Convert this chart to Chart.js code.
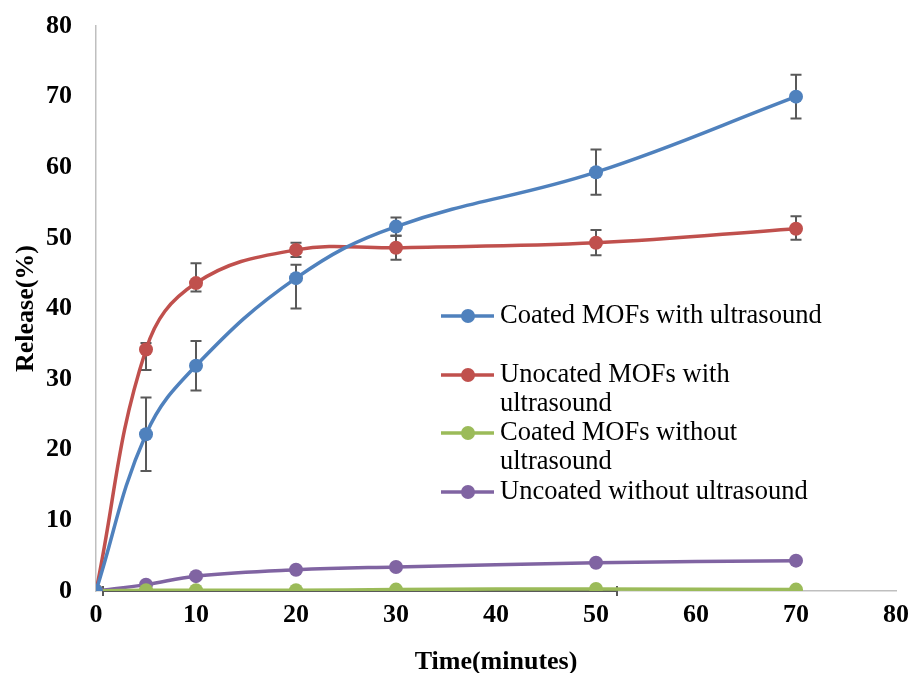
<!DOCTYPE html>
<html>
<head>
<meta charset="utf-8">
<script src="https://cdn.jsdelivr.net/npm/chart.js@4.4.0/dist/chart.umd.min.js"></script>
<style>
  html, body { margin: 0; padding: 0; background: #fff; }
  #wrap { width: 913px; height: 673px; }
</style>
</head>
<body>
<div id="wrap"><canvas id="releaseChart"></canvas></div>
<script>
// Release data
var times = [0, 5, 10, 20, 30, 50, 70];
var xTicks = [0, 10, 20, 30, 40, 50, 60, 70, 80];
var yTicks = [0, 10, 20, 30, 40, 50, 60, 70, 80];

var coatedUS = [0, 22.2, 31.9, 44.3, 51.6, 59.3, 70.0];
var coatedUSUp = [0, 5.2, 3.5, 1.9, 1.3, 3.2, 3.1];
var coatedUSDown = [0, 5.2, 3.5, 4.3, 1.3, 3.2, 3.1];

var uncoatedUS = [0, 34.2, 43.6, 48.3, 48.6, 49.3, 51.3];
var uncoatedUSUp = [0, 0.9, 2.8, 1.0, 1.7, 1.8, 1.75];
var uncoatedUSDown = [0, 2.9, 1.2, 1.0, 1.7, 1.75, 1.55];

var coatedNoUS = [0, 0.1, 0.1, 0.1, 0.2, 0.3, 0.2];
var uncoatedNoUS = [0, 0.9, 2.1, 3.0, 3.4, 4.0, 4.3];

// stray horizontal error bar along the baseline (x from, x to)
var baselineXErr = [0.7, 52.1];

var seriesNames = [
    ['Coated MOFs with ultrasound'],
    ['Unocated MOFs with', 'ultrasound'],
    ['Coated MOFs without', 'ultrasound'],
    ['Uncoated without ultrasound']
];
var seriesColors = ['#4F81BD', '#C0504D', '#9BBB59', '#8064A2'];

function toPoints(vals) {
    return times.map(function (t, i) { return { x: t, y: vals[i] }; });
}

function makeSet(i, vals, up, down) {
    return {
        label: seriesNames[i].join(' '),
        data: toPoints(vals),
        borderColor: seriesColors[i],
        backgroundColor: seriesColors[i],
        borderWidth: 3.5,
        pointRadius: 7,
        pointHoverRadius: 7,
        pointBorderWidth: 0,
        tension: 0.4,
        errUp: up,
        errDown: down
    };
}

// error bars drawn through the scales, under the markers
var errorBars = {
    id: 'errorBars',
    beforeDatasetsDraw: function (chart) {
        var ctx = chart.ctx;
        var xs = chart.scales.x, ys = chart.scales.y;
        ctx.save();
        ctx.strokeStyle = '#595959';
        ctx.lineWidth = 2;
        chart.data.datasets.forEach(function (ds) {
            if (!ds.errUp) return;
            ds.data.forEach(function (p, i) {
                var up = ds.errUp[i], dn = ds.errDown[i];
                if (!up && !dn) return;
                var px = xs.getPixelForValue(p.x);
                var top = ys.getPixelForValue(p.y + up);
                var bot = ys.getPixelForValue(p.y - dn);
                ctx.beginPath();
                ctx.moveTo(px, top); ctx.lineTo(px, bot);
                ctx.moveTo(px - 5.5, top); ctx.lineTo(px + 5.5, top);
                ctx.moveTo(px - 5.5, bot); ctx.lineTo(px + 5.5, bot);
                ctx.stroke();
            });
        });
        // horizontal bar on the baseline
        var y0 = ys.getPixelForValue(0);
        var xa = xs.getPixelForValue(baselineXErr[0]);
        var xb = xs.getPixelForValue(baselineXErr[1]);
        ctx.beginPath();
        ctx.moveTo(xa, y0); ctx.lineTo(xb, y0);
        ctx.moveTo(xa, y0 - 5); ctx.lineTo(xa, y0 + 5);
        ctx.moveTo(xb, y0 - 5); ctx.lineTo(xb, y0 + 5);
        ctx.stroke();
        ctx.restore();
    }
};

// legend inside the plot, with wrapped labels like the original
var insideLegend = {
    id: 'insideLegend',
    afterDraw: function (chart) {
        var ctx = chart.ctx;
        var a = chart.chartArea;
        var x0 = a.left + 345;
        var rows = [316, 375, 433, 492];
        ctx.save();
        ctx.font = '26.5px "Liberation Serif", "Times New Roman", serif';
        ctx.textBaseline = 'middle';
        ctx.fillStyle = '#000';
        seriesNames.forEach(function (lines, i) {
            var y = rows[i];
            ctx.strokeStyle = seriesColors[i];
            ctx.lineWidth = 3.5;
            ctx.beginPath();
            ctx.moveTo(x0, y); ctx.lineTo(x0 + 53, y);
            ctx.stroke();
            ctx.fillStyle = seriesColors[i];
            ctx.beginPath();
            ctx.arc(x0 + 27, y, 7, 0, Math.PI * 2);
            ctx.fill();
            ctx.fillStyle = '#000';
            lines.forEach(function (t, k) {
                ctx.fillText(t, x0 + 59, y + k * 29.5);
            });
        });
        ctx.restore();
    }
};

var ctx = document.getElementById('releaseChart').getContext('2d');
var releaseChart = new Chart(ctx, {
    type: 'line',
    data: {
        datasets: [
            makeSet(0, coatedUS, coatedUSUp, coatedUSDown),
            makeSet(1, uncoatedUS, uncoatedUSUp, uncoatedUSDown),
            makeSet(2, coatedNoUS, null, null),
            makeSet(3, uncoatedNoUS, null, null)
        ]
    },
    options: {
        responsive: true,
        maintainAspectRatio: false,
        animation: false,
        layout: { padding: { top: 26, right: 17, left: 0, bottom: 0 } },
        plugins: {
            legend: { display: false },
            tooltip: { enabled: false }
        },
        scales: {
            x: {
                type: 'linear',
                min: 0,
                max: 80,
                afterBuildTicks: function (s) { s.ticks = xTicks.map(function (v) { return { value: v }; }); },
                afterFit: function (s) { s.height = 82; s.paddingLeft = 0; s.paddingRight = 0; },
                grid: { display: false, drawTicks: false },
                border: { display: true, color: '#BFBFBF', width: 1.5 },
                ticks: {
                    padding: 9,
                    color: '#000',
                    font: { family: '"Liberation Serif", "Times New Roman", serif', size: 26, weight: 'bold' }
                },
                title: {
                    display: true,
                    text: 'Time(minutes)',
                    color: '#000',
                    padding: { top: 0, bottom: 0 },
                    font: { family: '"Liberation Serif", "Times New Roman", serif', size: 26, weight: 'bold', lineHeight: 0.85 }
                }
            },
            y: {
                min: 0,
                max: 80,
                afterBuildTicks: function (s) { s.ticks = yTicks.map(function (v) { return { value: v }; }); },
                afterFit: function (s) { s.width = 96; s.paddingTop = 0; s.paddingBottom = 0; },
                grid: { display: false, drawTicks: false },
                border: { display: true, color: '#BFBFBF', width: 1.5 },
                ticks: {
                    padding: 24,
                    color: '#000',
                    font: { family: '"Liberation Serif", "Times New Roman", serif', size: 26, weight: 'bold' }
                },
                title: {
                    display: true,
                    text: 'Release(%)',
                    color: '#000',
                    padding: { top: 11, bottom: 0 },
                    font: { family: '"Liberation Serif", "Times New Roman", serif', size: 26, weight: 'bold' }
                }
            }
        }
    },
    plugins: [errorBars, insideLegend]
});
</script>
</body>
</html>
